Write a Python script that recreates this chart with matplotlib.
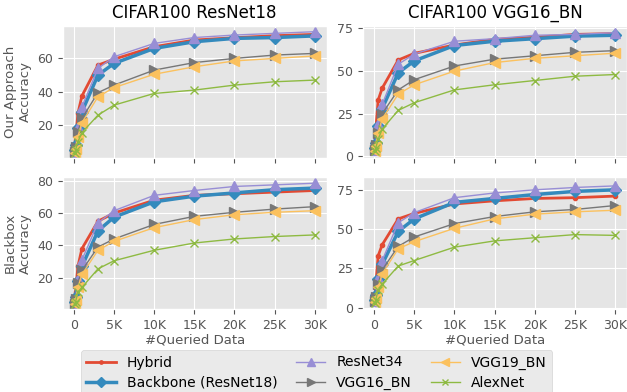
import numpy as np
import matplotlib
matplotlib.use('Agg')
import matplotlib.pyplot as plt
import matplotlib.ticker as ticker

plt.style.use('ggplot')

# Number of queried samples
queried = [100, 200, 500, 1000, 3000, 5000, 10000, 15000, 20000, 25000, 30000]

models = ["Hybrid", "Backbone (ResNet18)", "ResNet34", "VGG16_BN", "VGG19_BN", "AlexNet"]

# CIFAR100 ResNet18 - Our Approach
resnet18_ours = {
    "Hybrid":              [5, 11, 27, 37.5, 56, 59.5, 67, 71, 72.4, 73.6, 74.4],
    "Backbone (ResNet18)": [5, 8, 18.5, 28, 50, 57, 66, 70, 72, 72.5, 73.5],
    "ResNet34":            [4, 7, 19, 31, 54, 61, 69, 72.5, 74, 75, 76],
    "VGG16_BN":            [4, 7, 16, 24, 39.5, 44, 53, 57.5, 60, 62, 63],
    "VGG19_BN":            [3.5, 6, 13, 21.5, 37, 42.5, 50.5, 55, 58.5, 60, 61.5],
    "AlexNet":             [3.5, 5, 10, 15.5, 26, 32, 39, 41, 44, 46, 47],
}
# CIFAR100 VGG16_BN - Our Approach
vgg16_ours = {
    "Hybrid":              [5, 15.5, 33, 40, 56.5, 60.4, 65.3, 68.6, 69.8, 71.5, 72],
    "Backbone (ResNet18)": [5, 8, 18, 28, 49, 56, 65, 67.5, 69, 70.5, 71],
    "ResNet34":            [4, 7, 19, 30.5, 54, 60, 67.5, 69, 71, 71.5, 72.5],
    "VGG16_BN":            [4, 7, 14, 25, 39, 45, 53, 57, 59, 61, 62],
    "VGG19_BN":            [3.5, 6, 14, 22, 36.5, 42, 50, 55, 57.5, 59, 60.5],
    "AlexNet":             [3, 5, 10, 16, 27, 31.5, 39, 42, 44.5, 47, 48],
}
# CIFAR100 ResNet18 - Blackbox
resnet18_bb = {
    "Hybrid":              [5, 11, 27, 38, 55, 60, 68, 71, 72, 73, 74],
    "Backbone (ResNet18)": [5, 8, 18, 27, 49, 57.5, 67, 70.5, 72.5, 74.5, 75.5],
    "ResNet34":            [4, 7, 19, 31, 54, 61.5, 71, 74, 76.5, 77.5, 78.5],
    "VGG16_BN":            [4, 7, 17, 24.5, 39, 44, 53, 58, 60.5, 62.5, 64],
    "VGG19_BN":            [3.5, 6, 14, 22, 37, 42.5, 51, 56, 59, 60.5, 61.5],
    "AlexNet":             [3.5, 5, 11, 14, 25.5, 30.5, 37, 41.5, 44, 45.5, 46.5],
}
# CIFAR100 VGG16_BN - Blackbox
vgg16_bb = {
    "Hybrid":              [5, 14, 33, 40, 56.5, 60, 66, 68, 69.5, 70, 71],
    "Backbone (ResNet18)": [5, 8, 18, 27.5, 48.5, 56.5, 67, 69.5, 72, 74, 75],
    "ResNet34":            [4, 7, 19, 30, 54, 60.5, 70, 73, 75, 76.5, 77.5],
    "VGG16_BN":            [4, 7, 15, 24, 39, 45, 53.5, 58, 61, 62.5, 65],
    "VGG19_BN":            [3.5, 6, 13, 21.5, 37.5, 42, 50.5, 56.5, 59.5, 61, 62],
    "AlexNet":             [3, 5, 11, 15, 26.5, 30, 38.5, 42.5, 44.5, 46.5, 46],
}

xticks = [0, 5000, 10000, 15000, 20000, 25000, 30000]
xtick_labels = ["0", "5K", "10K", "15K", "20K", "25K", "30K"]

styles = {
    "Hybrid":              dict(color='#E24A33', marker='.', lw=2, ms=6),
    "Backbone (ResNet18)": dict(color='#348ABD', marker='D', lw=2.5, ms=6),
    "ResNet34":            dict(color='#988ED5', marker='^', lw=1, ms=7),
    "VGG16_BN":            dict(color='#777777', marker='>', lw=1, ms=7),
    "VGG19_BN":            dict(color='#FBC15E', marker='<', lw=1, ms=7),
    "AlexNet":             dict(color='#8EBA42', marker='x', lw=1, ms=6),
}

fig, axes = plt.subplots(2, 2, figsize=(6.27, 3.92), dpi=100, sharex=True)
fig.subplots_adjust(left=0.1, right=1.0, top=0.934, bottom=0.212,
                    wspace=0.137, hspace=0.15)

panels = [(axes[0, 0], resnet18_ours, (0.6, 79.5)),
          (axes[0, 1], vgg16_ours, (-0.6, 76.5)),
          (axes[1, 0], resnet18_bb, (0.7, 82.2)),
          (axes[1, 1], vgg16_bb, (-0.8, 83))]

for ax, data, ylim in panels:
    for m in models:
        ax.plot(queried, data[m], label=m, **styles[m])
    ax.set_ylim(*ylim)
    ax.set_xticks(xticks)
    ax.set_xticklabels(xtick_labels)
    ax.tick_params(labelsize=9)

axes[0, 1].yaxis.set_major_locator(ticker.MultipleLocator(25))
axes[1, 1].yaxis.set_major_locator(ticker.MultipleLocator(25))

axes[0, 0].set_title("CIFAR100 ResNet18", fontsize=12)
axes[0, 1].set_title("CIFAR100 VGG16_BN", fontsize=12)
axes[0, 0].set_ylabel("Our Approach\nAccuracy", fontsize=9.5)
axes[1, 0].set_ylabel("Blackbox\nAccuracy", fontsize=9.5)
axes[1, 0].set_xlabel("#Queried Data", fontsize=9.5, labelpad=1)
axes[1, 1].set_xlabel("#Queried Data", fontsize=9.5, labelpad=1)

handles, labels = axes[0, 0].get_legend_handles_labels()
fig.legend(handles, labels, ncol=3, loc='upper center',
           bbox_to_anchor=(0.505, 0.125), fontsize=10,
           frameon=True, columnspacing=1.35, handlelength=2.1,
           labelspacing=0.45, markerscale=0.8)

plt.savefig('out.png', dpi=100)
